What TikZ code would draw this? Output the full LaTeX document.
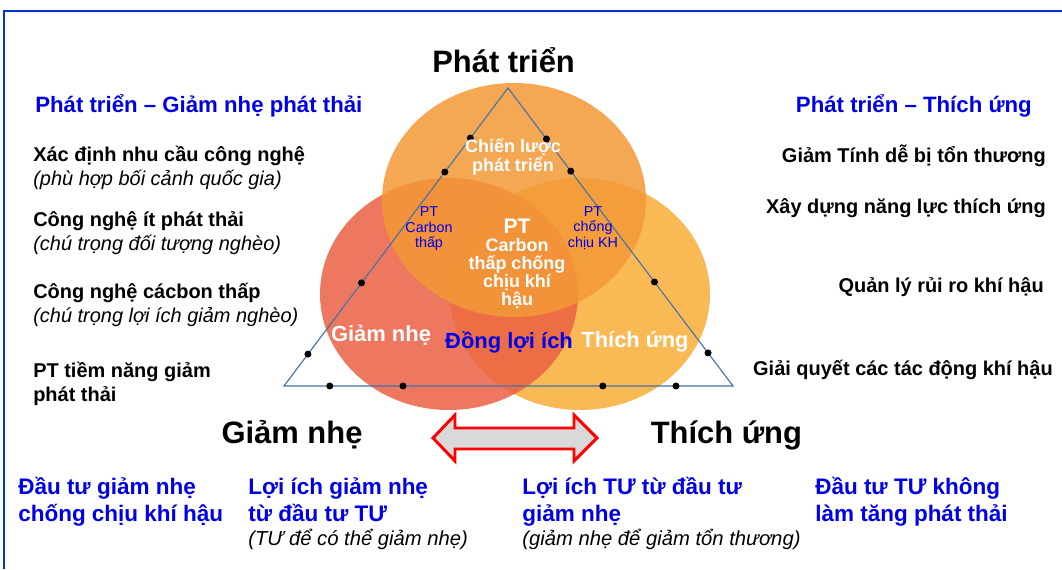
\documentclass[tikz,border=0pt]{standalone}
\usepackage{fontspec}
\setmainfont{Liberation Sans}
\usetikzlibrary{calc}

\definecolor{vennFrame}{RGB}{0,51,204}
\definecolor{vennTop}{RGB}{243,153,55}
\definecolor{vennLeft}{RGB}{235,96,67}
\definecolor{vennRight}{RGB}{249,173,55}
\definecolor{vennSide}{RGB}{68,114,169}
\definecolor{vennBlue}{RGB}{0,0,230}
\definecolor{vennArrow}{RGB}{255,0,0}
\definecolor{vennArrowFill}{RGB}{217,217,217}

\begin{document}
\begin{tikzpicture}[x=1cm,y=1cm,
      pole/.style={font=\fontsize{22}{26}\selectfont\bfseries,
        text=black, anchor=base, inner sep=0},
      pair/.style={font=\fontsize{15.8}{19}\selectfont\bfseries,
        text=vennBlue, inner sep=0},
      entry/.style={font=\fontsize{14.2}{17}\selectfont\bfseries,
        text=black, inner sep=0},
      remark/.style={font=\fontsize{14.2}{17}\selectfont\itshape,
        text=black, anchor=base west, inner sep=0},
      zone/.style={font=\fontsize{15.6}{19}\selectfont\bfseries,
        text=white, anchor=base, inner sep=0},
      core/.style={font=\fontsize{12.8}{13.5}\selectfont\bfseries,
        text=white, align=center, inner sep=0},
      lens/.style={font=\fontsize{10.2}{11}\selectfont,
        text=vennBlue, align=center, inner sep=0},
      gain/.style={font=\fontsize{16}{19}\selectfont\bfseries,
        text=vennBlue, anchor=base west, inner sep=0},
      gainNote/.style={font=\fontsize{14.4}{17}\selectfont\itshape,
        text=black, anchor=base west, inner sep=0},
      blob/.style={fill opacity=.85},
      side/.style={draw=vennSide, line width=.8pt},
      knot/.style={fill=black}]
      \useasboundingbox (0,0) rectangle (26.55,14.225);
      \fill[white] (0,0) rectangle (26.55,14.225);
      \draw[vennFrame, line width=1.4pt] (.1,0) -- (.1,13.95) -- (26.55,13.95);

      % three circles
      \fill[vennRight, blob] (14.5,6.875) ellipse [x radius=3.25, y radius=2.9];
      \fill[vennLeft, blob] (11.225,6.875) ellipse [x radius=3.225, y radius=2.9];
      \fill[vennTop, blob] (12.85,9.225) ellipse [x radius=3.3, y radius=2.925];

      % triangle with its marks
      \coordinate (apex) at (12.7,12.025);
      \coordinate (baseL) at (7.1,4.575);
      \coordinate (baseR) at (18.325,4.575);
      \draw[side] (apex) -- (baseL) -- (baseR) -- cycle;
      \foreach \t in {.107,.346,.718,.832}{
        \fill[knot] ($(baseL)!\t!(apex)$) circle (.0875);}
      \foreach \t in {.111,.349,.721,.829}{
        \fill[knot] ($(baseR)!\t!(apex)$) circle (.0875);}
      \foreach \t in {.102,.265,.71,.873}{
        \fill[knot] ($(baseL)!\t!(baseR)$) circle (.0875);}

      \node[pole] (growth) at (12.59,12.4) {Phát triển};
      \node[pole] (mitigation) at (7.3,3.15) {Giảm nhẹ};
      \node[pole] (adaptation) at (18.16,3.15) {Thích ứng};

      % inside the circles
      \node[core] (strategy) at (12.825,10.3) {Chiến lược\\phát triển};
      \node[lens] (lowCarbon) at (10.725,8.5) {PT\\Carbon\\thấp};
      \node[lens] (resilient) at (14.825,8.525) {PT\\chống\\chịu KH};
      \node[core, font=\fontsize{12.8}{12.8}\selectfont\bfseries] (centre)
        at (12.925,7.625)
        {{\fontsize{15}{18}\selectfont PT}\\Carbon\\thấp chống\\chịu khí\\hậu};
      \node[zone] (zoneMit) at (9.525,5.675) {Giảm nhẹ};
      \node[zone, text=vennBlue] (zoneBoth) at (12.725,5.5) {Đồng lợi ích};
      \node[zone] (zoneAda) at (15.875,5.525) {Thích ứng};

      \path[fill=vennArrowFill, draw=vennArrow, line width=2.1pt]
        (10.825,3.275) -- (11.375,3.85) -- (11.375,3.525) -- (14.35,3.525)
        -- (14.35,3.85) -- (14.925,3.275) -- (14.35,2.7) -- (14.35,3.0)
        -- (11.375,3.0) -- (11.375,2.7) -- cycle;

      % left column
      \node[pair, anchor=base west] (pairMit) at (.875,11.4)
        {Phát triển – Giảm nhẹ phát thải};
      \node[entry, anchor=base west] (needs) at (.825,10.175)
        {Xác định nhu cầu công nghệ};
      \node[remark] (needsNote) at (.825,9.575) {(phù hợp bối cảnh quốc gia)};
      \node[entry, anchor=base west] (lowEmit) at (.825,8.55)
        {Công nghệ ít phát thải};
      \node[remark] (lowEmitNote) at (.825,7.95) {(chú trọng đối tượng nghèo)};
      \node[entry, anchor=base west] (lowTech) at (.825,6.75)
        {Công nghệ cácbon thấp};
      \node[remark] (lowTechNote) at (.825,6.15)
        {(chú trọng lợi ích giảm nghèo)};
      \node[entry, anchor=base west] (potential) at (.825,4.775)
        {PT tiềm năng giảm};
      \node[entry, anchor=base west] (potentialB) at (.825,4.175) {phát thải};

      % right column
      \node[pair, anchor=base east] (pairAda) at (25.8,11.4)
        {Phát triển – Thích ứng};
      \node[entry, anchor=base east] (vulner) at (26.15,10.15)
        {Giảm Tính dễ bị tổn thương};
      \node[entry, anchor=base east] (capacity) at (26.15,8.875)
        {Xây dựng năng lực thích ứng};
      \node[entry, anchor=base east] (risk) at (26.1,6.9)
        {Quản lý rủi ro khí hậu};
      \node[entry, anchor=base east] (impacts) at (26.325,4.825)
        {Giải quyết các tác động khí hậu};

      % bottom row
      \node[gain] (invMit) at (.45,1.85) {Đầu tư giảm nhẹ};
      \node[gain] (invMitB) at (.45,1.2) {chống chịu khí hậu};
      \node[gain] (benMit) at (6.2,1.85) {Lợi ích giảm nhẹ};
      \node[gain] (benMitB) at (6.2,1.2) {từ đầu tư TƯ};
      \node[gainNote] (benMitNote) at (6.2,.6) {(TƯ để có thể giảm nhẹ)};
      \node[gain] (benAda) at (13.05,1.85) {Lợi ích TƯ từ đầu tư};
      \node[gain] (benAdaB) at (13.05,1.2) {giảm nhẹ};
      \node[gainNote] (benAdaNote) at (13.05,.6)
        {(giảm nhẹ để giảm tổn thương)};
      \node[gain] (invAda) at (20.375,1.85) {Đầu tư TƯ không};
      \node[gain] (invAdaB) at (20.375,1.2) {làm tăng phát thải};
    \end{tikzpicture}
\end{document}
